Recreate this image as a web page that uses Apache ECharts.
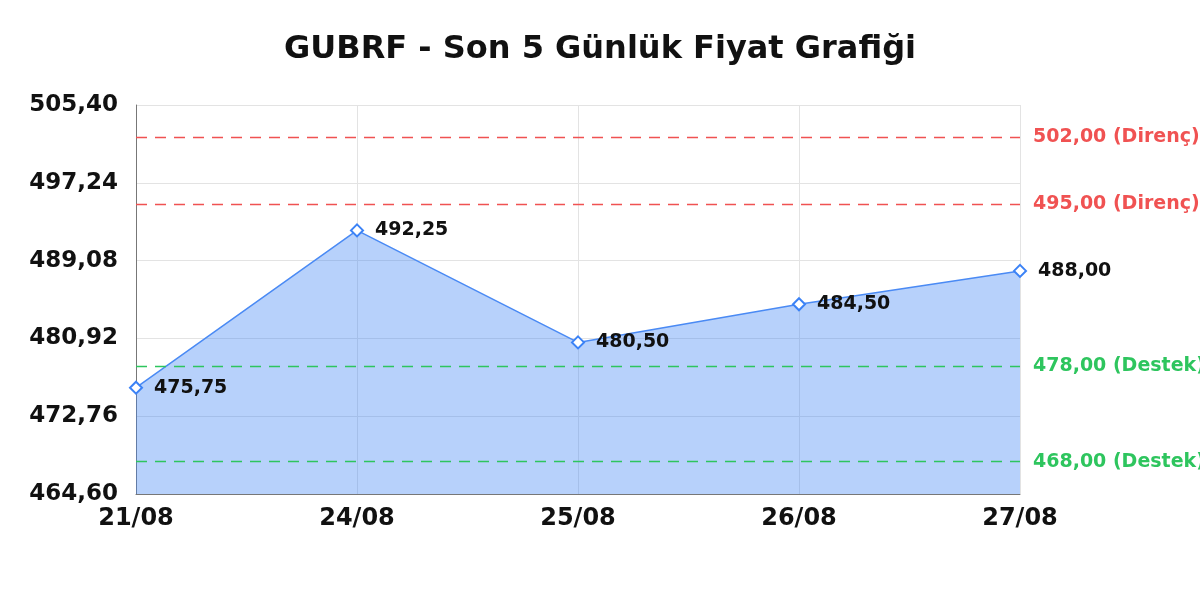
<!DOCTYPE html>
<html><head><meta charset="utf-8">
<script src="https://cdn.jsdelivr.net/npm/echarts@6/dist/echarts.min.js"></script>
<style>html,body{margin:0;padding:0;background:#fff}#c{width:1200px;height:600px}</style>
</head><body><div id="c"></div>
<script>
const categories = ['21/08','24/08','25/08','26/08','27/08'];
const prices = [475.75, 492.25, 480.50, 484.50, 488.00];
const resistance = [502.00, 495.00];
const support = [478.00, 468.00];
const yMin = 464.60, yMax = 505.40, yStep = 8.16;

const fmt = v => Number(v).toFixed(2).replace('.', ',');
const FONT = '"DejaVu Sans", Verdana, sans-serif';

const markData = [];
resistance.forEach(v => markData.push({yAxis: v, lineStyle:{color:'#f05252'}, label:{color:'#f05252', formatter: fmt(v) + ' (Direnç)'}}));
support.forEach(v => markData.push({yAxis: v, lineStyle:{color:'#2ec55e'}, label:{color:'#2ec55e', formatter: fmt(v) + ' (Destek)'}}));

const chart = echarts.init(document.getElementById('c'));
chart.setOption({
  animation: false,
  backgroundColor: '#fff',
  title: {
    text: 'GUBRF - Son 5 Günlük Fiyat Grafiği',
    left: 'center', top: 29,
    textStyle: {fontFamily: FONT, fontWeight: 'bold', fontSize: 32, color: '#111'}
  },
  grid: {left: 136, right: 180, top: 105, bottom: 106, containLabel: false},
  xAxis: {
    type: 'category', data: categories, boundaryGap: false,
    axisLine: {lineStyle: {color: '#777'}},
    axisTick: {show: false},
    splitLine: {show: true, lineStyle: {color: '#e3e3e3'}},
    axisLabel: {fontFamily: FONT, fontWeight: 'bold', fontSize: 24, color: '#111', margin: 13}
  },
  yAxis: {
    type: 'value', min: yMin, max: yMax, interval: yStep,
    axisLine: {show: true, lineStyle: {color: '#777'}},
    axisTick: {show: false},
    splitLine: {lineStyle: {color: '#e3e3e3'}},
    axisLabel: {fontFamily: FONT, fontWeight: 'bold', fontSize: 23, color: '#111', margin: 18, formatter: fmt}
  },
  series: [{
    type: 'line', data: prices,
    symbol: 'diamond', symbolSize: 12,
    itemStyle: {color: '#fff', borderColor: '#3b82f6', borderWidth: 2},
    lineStyle: {color: '#4a8af4', width: 1.5},
    areaStyle: {color: 'rgba(66,133,244,0.38)', opacity: 1},
    label: {show: true, position: 'right', distance: 11, formatter: p => fmt(p.value),
      fontFamily: FONT, fontWeight: 'bold', fontSize: 19, color: '#111'},
    markLine: {
      silent: true, symbol: ['none','none'],
      lineStyle: {type: [11, 8], width: 1.4},
      label: {position: 'end', distance: 13, fontFamily: FONT, fontWeight: 'bold', fontSize: 19},
      data: markData
    }
  }]
});
</script></body></html>
